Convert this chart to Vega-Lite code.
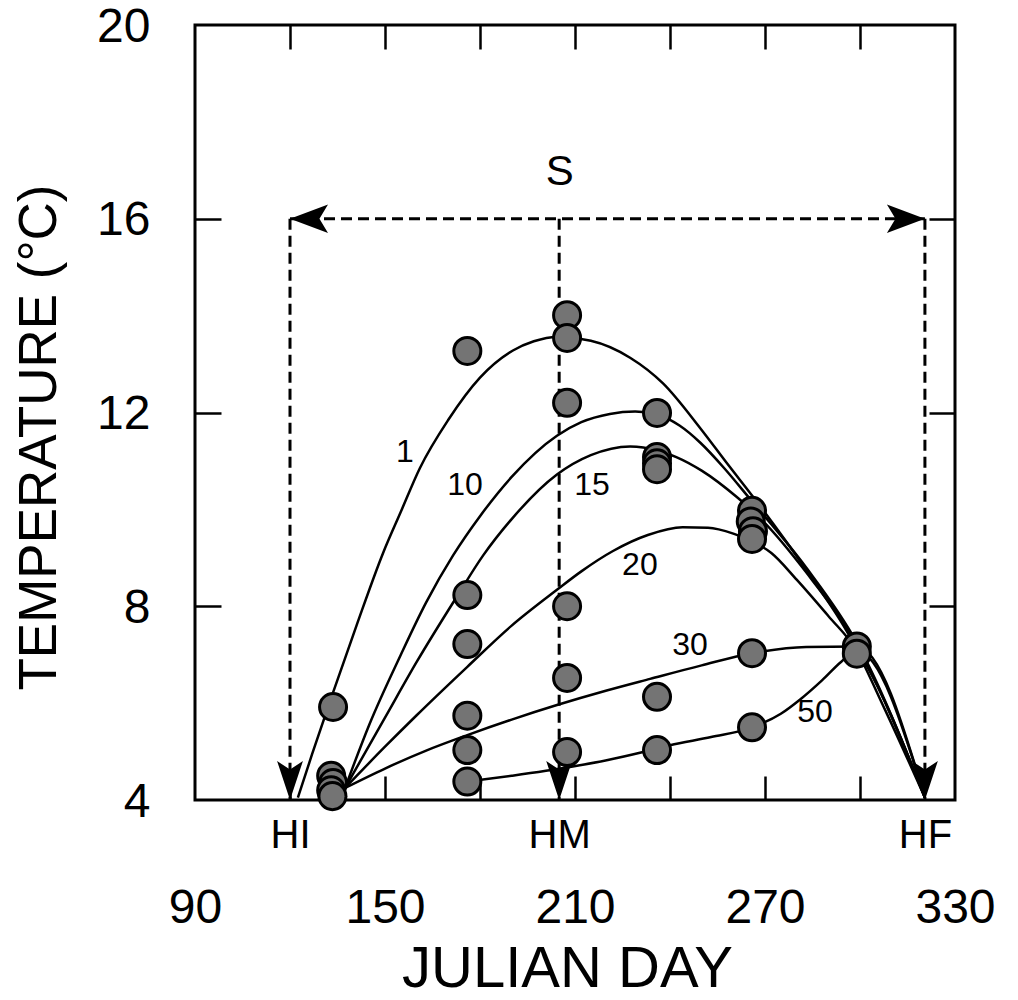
{
  "$schema": "https://vega.github.io/schema/vega-lite/v6.json",
  "width": 760,
  "height": 775,
  "autosize": {"type": "none"},
  "padding": {"left": 195, "top": 25, "right": 63, "bottom": 200},
  "background": "white",
  "config": {
    "font": "Liberation Sans",
    "view": {"stroke": "black", "strokeWidth": 3},
    "axis": {
      "grid": false,
      "domain": false,
      "labelFont": "Liberation Sans",
      "titleFont": "Liberation Sans",
      "labelColor": "black",
      "titleColor": "black",
      "tickColor": "black",
      "titleFontWeight": "normal",
      "labelFlush": false,
      "labelOverlap": false,
      "labelBound": false
    }
  },
  "datasets": {
    "curves": [
      {"curve": "1", "day": 122.5, "temp": 4.05},
      {"curve": "1", "day": 127, "temp": 4.95},
      {"curve": "1", "day": 133.5, "temp": 6.2},
      {"curve": "1", "day": 141, "temp": 7.6},
      {"curve": "1", "day": 149.4, "temp": 9.1},
      {"curve": "1", "day": 155, "temp": 9.95},
      {"curve": "1", "day": 161, "temp": 10.85},
      {"curve": "1", "day": 170, "temp": 11.85},
      {"curve": "1", "day": 180, "temp": 12.72},
      {"curve": "1", "day": 190.4, "temp": 13.28},
      {"curve": "1", "day": 197, "temp": 13.47},
      {"curve": "1", "day": 204.3, "temp": 13.56},
      {"curve": "1", "day": 215, "temp": 13.48},
      {"curve": "1", "day": 227.4, "temp": 13.13},
      {"curve": "1", "day": 237.8, "temp": 12.6},
      {"curve": "1", "day": 249.5, "temp": 11.68},
      {"curve": "1", "day": 258, "temp": 10.95},
      {"curve": "1", "day": 267.5, "temp": 10.15},
      {"curve": "1", "day": 283, "temp": 8.75},
      {"curve": "1", "day": 296.8, "temp": 7.37},
      {"curve": "1", "day": 308, "temp": 5.85},
      {"curve": "1", "day": 320.5, "temp": 4.05},
      {"curve": "10", "day": 137.4, "temp": 4.25},
      {"curve": "10", "day": 145, "temp": 5.55},
      {"curve": "10", "day": 155, "temp": 7.0},
      {"curve": "10", "day": 163, "temp": 8.08},
      {"curve": "10", "day": 171.5, "temp": 9.05},
      {"curve": "10", "day": 180, "temp": 9.86},
      {"curve": "10", "day": 190, "temp": 10.67},
      {"curve": "10", "day": 204.3, "temp": 11.52},
      {"curve": "10", "day": 212, "temp": 11.8},
      {"curve": "10", "day": 221, "temp": 11.97},
      {"curve": "10", "day": 229, "temp": 12.02},
      {"curve": "10", "day": 236, "temp": 11.96},
      {"curve": "10", "day": 243, "temp": 11.73},
      {"curve": "10", "day": 249.5, "temp": 11.38},
      {"curve": "10", "day": 257, "temp": 10.86},
      {"curve": "10", "day": 265.2, "temp": 10.22},
      {"curve": "10", "day": 283, "temp": 8.8},
      {"curve": "10", "day": 299, "temp": 7.25},
      {"curve": "10", "day": 320.5, "temp": 4.05},
      {"curve": "15", "day": 137.4, "temp": 4.25},
      {"curve": "15", "day": 150, "temp": 5.7},
      {"curve": "15", "day": 160, "temp": 6.85},
      {"curve": "15", "day": 172.7, "temp": 8.2},
      {"curve": "15", "day": 181, "temp": 9.05},
      {"curve": "15", "day": 190, "temp": 9.8},
      {"curve": "15", "day": 204.3, "temp": 10.72},
      {"curve": "15", "day": 215, "temp": 11.12},
      {"curve": "15", "day": 227.4, "temp": 11.3},
      {"curve": "15", "day": 236, "temp": 11.22},
      {"curve": "15", "day": 242, "temp": 11.08},
      {"curve": "15", "day": 250, "temp": 10.8},
      {"curve": "15", "day": 261, "temp": 10.26},
      {"curve": "15", "day": 268, "temp": 9.85},
      {"curve": "15", "day": 283, "temp": 8.7},
      {"curve": "15", "day": 299, "temp": 7.2},
      {"curve": "15", "day": 320.5, "temp": 4.05},
      {"curve": "20", "day": 137.4, "temp": 4.25},
      {"curve": "20", "day": 150, "temp": 5.1},
      {"curve": "20", "day": 160, "temp": 5.75},
      {"curve": "20", "day": 176, "temp": 6.75},
      {"curve": "20", "day": 190, "temp": 7.6},
      {"curve": "20", "day": 204.3, "temp": 8.34},
      {"curve": "20", "day": 212, "temp": 8.72},
      {"curve": "20", "day": 222, "temp": 9.14},
      {"curve": "20", "day": 233, "temp": 9.47},
      {"curve": "20", "day": 244, "temp": 9.63},
      {"curve": "20", "day": 252, "temp": 9.62},
      {"curve": "20", "day": 260, "temp": 9.5},
      {"curve": "20", "day": 266, "temp": 9.34},
      {"curve": "20", "day": 272, "temp": 9.1},
      {"curve": "20", "day": 280, "temp": 8.55},
      {"curve": "20", "day": 290, "temp": 7.8},
      {"curve": "20", "day": 299, "temp": 7.1},
      {"curve": "20", "day": 320.5, "temp": 4.05},
      {"curve": "30", "day": 137.4, "temp": 4.25},
      {"curve": "30", "day": 150, "temp": 4.65},
      {"curve": "30", "day": 163, "temp": 5.02},
      {"curve": "30", "day": 176, "temp": 5.34},
      {"curve": "30", "day": 190, "temp": 5.66},
      {"curve": "30", "day": 204.3, "temp": 5.96},
      {"curve": "30", "day": 220, "temp": 6.26},
      {"curve": "30", "day": 233.7, "temp": 6.5},
      {"curve": "30", "day": 250, "temp": 6.78},
      {"curve": "30", "day": 266, "temp": 7.03},
      {"curve": "30", "day": 283, "temp": 7.16},
      {"curve": "30", "day": 299, "temp": 7.17},
      {"curve": "30", "day": 320.5, "temp": 4.05},
      {"curve": "50", "day": 176, "temp": 4.38},
      {"curve": "50", "day": 190, "temp": 4.5},
      {"curve": "50", "day": 208.4, "temp": 4.68},
      {"curve": "50", "day": 220, "temp": 4.82},
      {"curve": "50", "day": 231.5, "temp": 4.99},
      {"curve": "50", "day": 240, "temp": 5.13},
      {"curve": "50", "day": 253, "temp": 5.3},
      {"curve": "50", "day": 266, "temp": 5.5},
      {"curve": "50", "day": 275, "temp": 5.78},
      {"curve": "50", "day": 281, "temp": 6.07},
      {"curve": "50", "day": 288, "temp": 6.47},
      {"curve": "50", "day": 294, "temp": 6.85},
      {"curve": "50", "day": 299, "temp": 7.08},
      {"curve": "50", "day": 320.5, "temp": 4.05}
    ],
    "obs": [
      {"day": 133.6, "temp": 5.92},
      {"day": 133, "temp": 4.5},
      {"day": 133.6, "temp": 4.35},
      {"day": 133, "temp": 4.2},
      {"day": 133.4, "temp": 4.08},
      {"day": 176, "temp": 13.27},
      {"day": 176, "temp": 8.23},
      {"day": 176, "temp": 7.22},
      {"day": 176, "temp": 5.74},
      {"day": 176, "temp": 5.03},
      {"day": 176, "temp": 4.38},
      {"day": 207.5, "temp": 14.01},
      {"day": 207.5, "temp": 13.54},
      {"day": 207.5, "temp": 12.2},
      {"day": 207.5, "temp": 8.0},
      {"day": 207.5, "temp": 6.52},
      {"day": 207.5, "temp": 4.99},
      {"day": 235.9, "temp": 11.99},
      {"day": 235.9, "temp": 11.08},
      {"day": 235.9, "temp": 10.95},
      {"day": 235.9, "temp": 10.83},
      {"day": 235.9, "temp": 6.13},
      {"day": 235.9, "temp": 5.03},
      {"day": 265.9, "temp": 9.97},
      {"day": 265.5, "temp": 9.75},
      {"day": 266.2, "temp": 9.55},
      {"day": 265.9, "temp": 9.39},
      {"day": 265.9, "temp": 7.03},
      {"day": 265.9, "temp": 5.5},
      {"day": 299, "temp": 7.17},
      {"day": 299, "temp": 7.02}
    ],
    "vlines": [
      {"day": 120, "top": 16, "bottom": 4},
      {"day": 205, "top": 16, "bottom": 4},
      {"day": 320.5, "top": 16, "bottom": 4}
    ],
    "hline": [
      {"start": 120, "end": 320.5, "temp": 16}
    ],
    "arrows": [
      {"day": 120, "temp": 4, "dir": "down"},
      {"day": 205, "temp": 4, "dir": "down"},
      {"day": 320.5, "temp": 4, "dir": "down"},
      {"day": 120, "temp": 16, "dir": "left"},
      {"day": 320.5, "temp": 16, "dir": "right"}
    ],
    "curveLabels": [
      {"label": "1", "day": 156.3, "temp": 11.18},
      {"label": "10", "day": 175.3, "temp": 10.5},
      {"label": "15", "day": 215.4, "temp": 10.5},
      {"label": "20", "day": 230.5, "temp": 8.85},
      {"label": "30", "day": 246.3, "temp": 7.2},
      {"label": "50", "day": 285.8, "temp": 5.82}
    ],
    "spanLabel": [
      {"label": "S", "day": 205.2, "temp": 16.97}
    ]
  },
  "layer": [
    {
      "data": {"name": "vlines"},
      "mark": {"type": "rule", "color": "black", "strokeWidth": 3, "strokeDash": [11, 6]},
      "encoding": {
        "x": {
          "field": "day", "type": "quantitative",
          "scale": {"domain": [90, 330], "nice": false, "zero": false},
          "axis": {
            "orient": "bottom", "values": [120, 205, 320.5],
            "labelExpr": "datum.value == 120 ? 'HI' : (datum.value == 205 ? 'HM' : 'HF')",
            "ticks": false, "tickSize": 0, "labelFontSize": 40, "labelPadding": 15, "title": null
          }
        },
        "y": {
          "field": "top", "type": "quantitative",
          "scale": {"domain": [4, 20], "nice": false, "zero": false},
          "axis": {
            "orient": "left", "values": [8, 12, 16], "labels": false,
            "tickSize": -26, "tickWidth": 2.5, "title": null
          }
        },
        "y2": {"field": "bottom"}
      }
    },
    {
      "data": {"name": "hline"},
      "mark": {"type": "rule", "color": "black", "strokeWidth": 3, "strokeDash": [11, 6]},
      "encoding": {
        "x": {
          "field": "start", "type": "quantitative",
          "scale": {"domain": [90, 330], "nice": false, "zero": false},
          "axis": {
            "orient": "bottom", "values": [120, 150, 180, 210, 240, 270, 300], "labels": false,
            "tickSize": -24, "tickWidth": 2.5, "title": null
          }
        },
        "x2": {"field": "end"},
        "y": {
          "field": "temp", "type": "quantitative",
          "scale": {"domain": [4, 20], "nice": false, "zero": false},
          "axis": {
            "orient": "right", "values": [8, 12, 16], "labels": false,
            "tickSize": -26, "tickWidth": 2.5, "title": null
          }
        }
      }
    },
    {
      "data": {"name": "curves"},
      "mark": {"type": "line", "interpolate": "monotone", "color": "black", "strokeWidth": 2.5},
      "encoding": {
        "x": {
          "field": "day", "type": "quantitative",
          "scale": {"domain": [90, 330], "nice": false, "zero": false},
          "axis": {
            "orient": "bottom", "values": [90, 150, 210, 270, 330],
            "ticks": false, "tickSize": 0, "labelFontSize": 48, "labelPadding": 84,
            "title": "JULIAN DAY", "titleFontSize": 58, "titlePadding": 8, "titleX": 372
          }
        },
        "y": {
          "field": "temp", "type": "quantitative",
          "scale": {"domain": [4, 20], "nice": false, "zero": false},
          "axis": {
            "orient": "left", "values": [4, 8, 12, 16, 20],
            "ticks": false, "tickSize": 0, "labelFontSize": 48, "labelPadding": 45, "labelOffset": 2,
            "title": "TEMPERATURE (°C)", "titleFontSize": 53, "titlePadding": 30, "titleY": 412
          }
        },
        "detail": {"field": "curve"}
      }
    },
    {
      "data": {"name": "arrows"},
      "mark": {"type": "point", "filled": true, "color": "black", "opacity": 1, "size": 1444, "strokeWidth": 0},
      "encoding": {
        "x": {
          "field": "day", "type": "quantitative",
          "scale": {"domain": [90, 330], "nice": false, "zero": false},
          "axis": {
            "orient": "top", "values": [120, 150, 180, 210, 240, 270, 300], "labels": false,
            "tickSize": -24, "tickWidth": 2.5, "title": null
          }
        },
        "y": {
          "field": "temp", "type": "quantitative",
          "scale": {"domain": [4, 20], "nice": false, "zero": false},
          "axis": null
        },
        "shape": {
          "field": "dir", "type": "nominal",
          "scale": {
            "domain": ["down", "left", "right"],
            "range": [
              "M0,0 L-0.68,-2.05 L0,-1.6 L0.68,-2.05 Z",
              "M0,0 L2,-0.75 L1.55,0 L2,0.75 Z",
              "M0,0 L-2,-0.75 L-1.55,0 L-2,0.75 Z"
            ]
          },
          "legend": null
        }
      }
    },
    {
      "data": {"name": "obs"},
      "mark": {"type": "circle", "size": 730, "fill": "#747474", "stroke": "black", "strokeWidth": 3, "opacity": 1},
      "encoding": {
        "x": {"field": "day", "type": "quantitative", "scale": {"domain": [90, 330], "nice": false, "zero": false}, "axis": null},
        "y": {"field": "temp", "type": "quantitative", "scale": {"domain": [4, 20], "nice": false, "zero": false}, "axis": null}
      }
    },
    {
      "data": {"name": "curveLabels"},
      "mark": {"type": "text", "font": "Liberation Sans", "fontSize": 32, "color": "black", "align": "center", "baseline": "middle"},
      "encoding": {
        "x": {"field": "day", "type": "quantitative", "scale": {"domain": [90, 330], "nice": false, "zero": false}, "axis": null},
        "y": {"field": "temp", "type": "quantitative", "scale": {"domain": [4, 20], "nice": false, "zero": false}, "axis": null},
        "text": {"field": "label"}
      }
    },
    {
      "data": {"name": "spanLabel"},
      "mark": {"type": "text", "font": "Liberation Sans", "fontSize": 42, "color": "black", "align": "center", "baseline": "middle"},
      "encoding": {
        "x": {"field": "day", "type": "quantitative", "scale": {"domain": [90, 330], "nice": false, "zero": false}, "axis": null},
        "y": {"field": "temp", "type": "quantitative", "scale": {"domain": [4, 20], "nice": false, "zero": false}, "axis": null},
        "text": {"field": "label"}
      }
    }
  ],
  "resolve": {"axis": {"x": "independent", "y": "independent"}}
}
